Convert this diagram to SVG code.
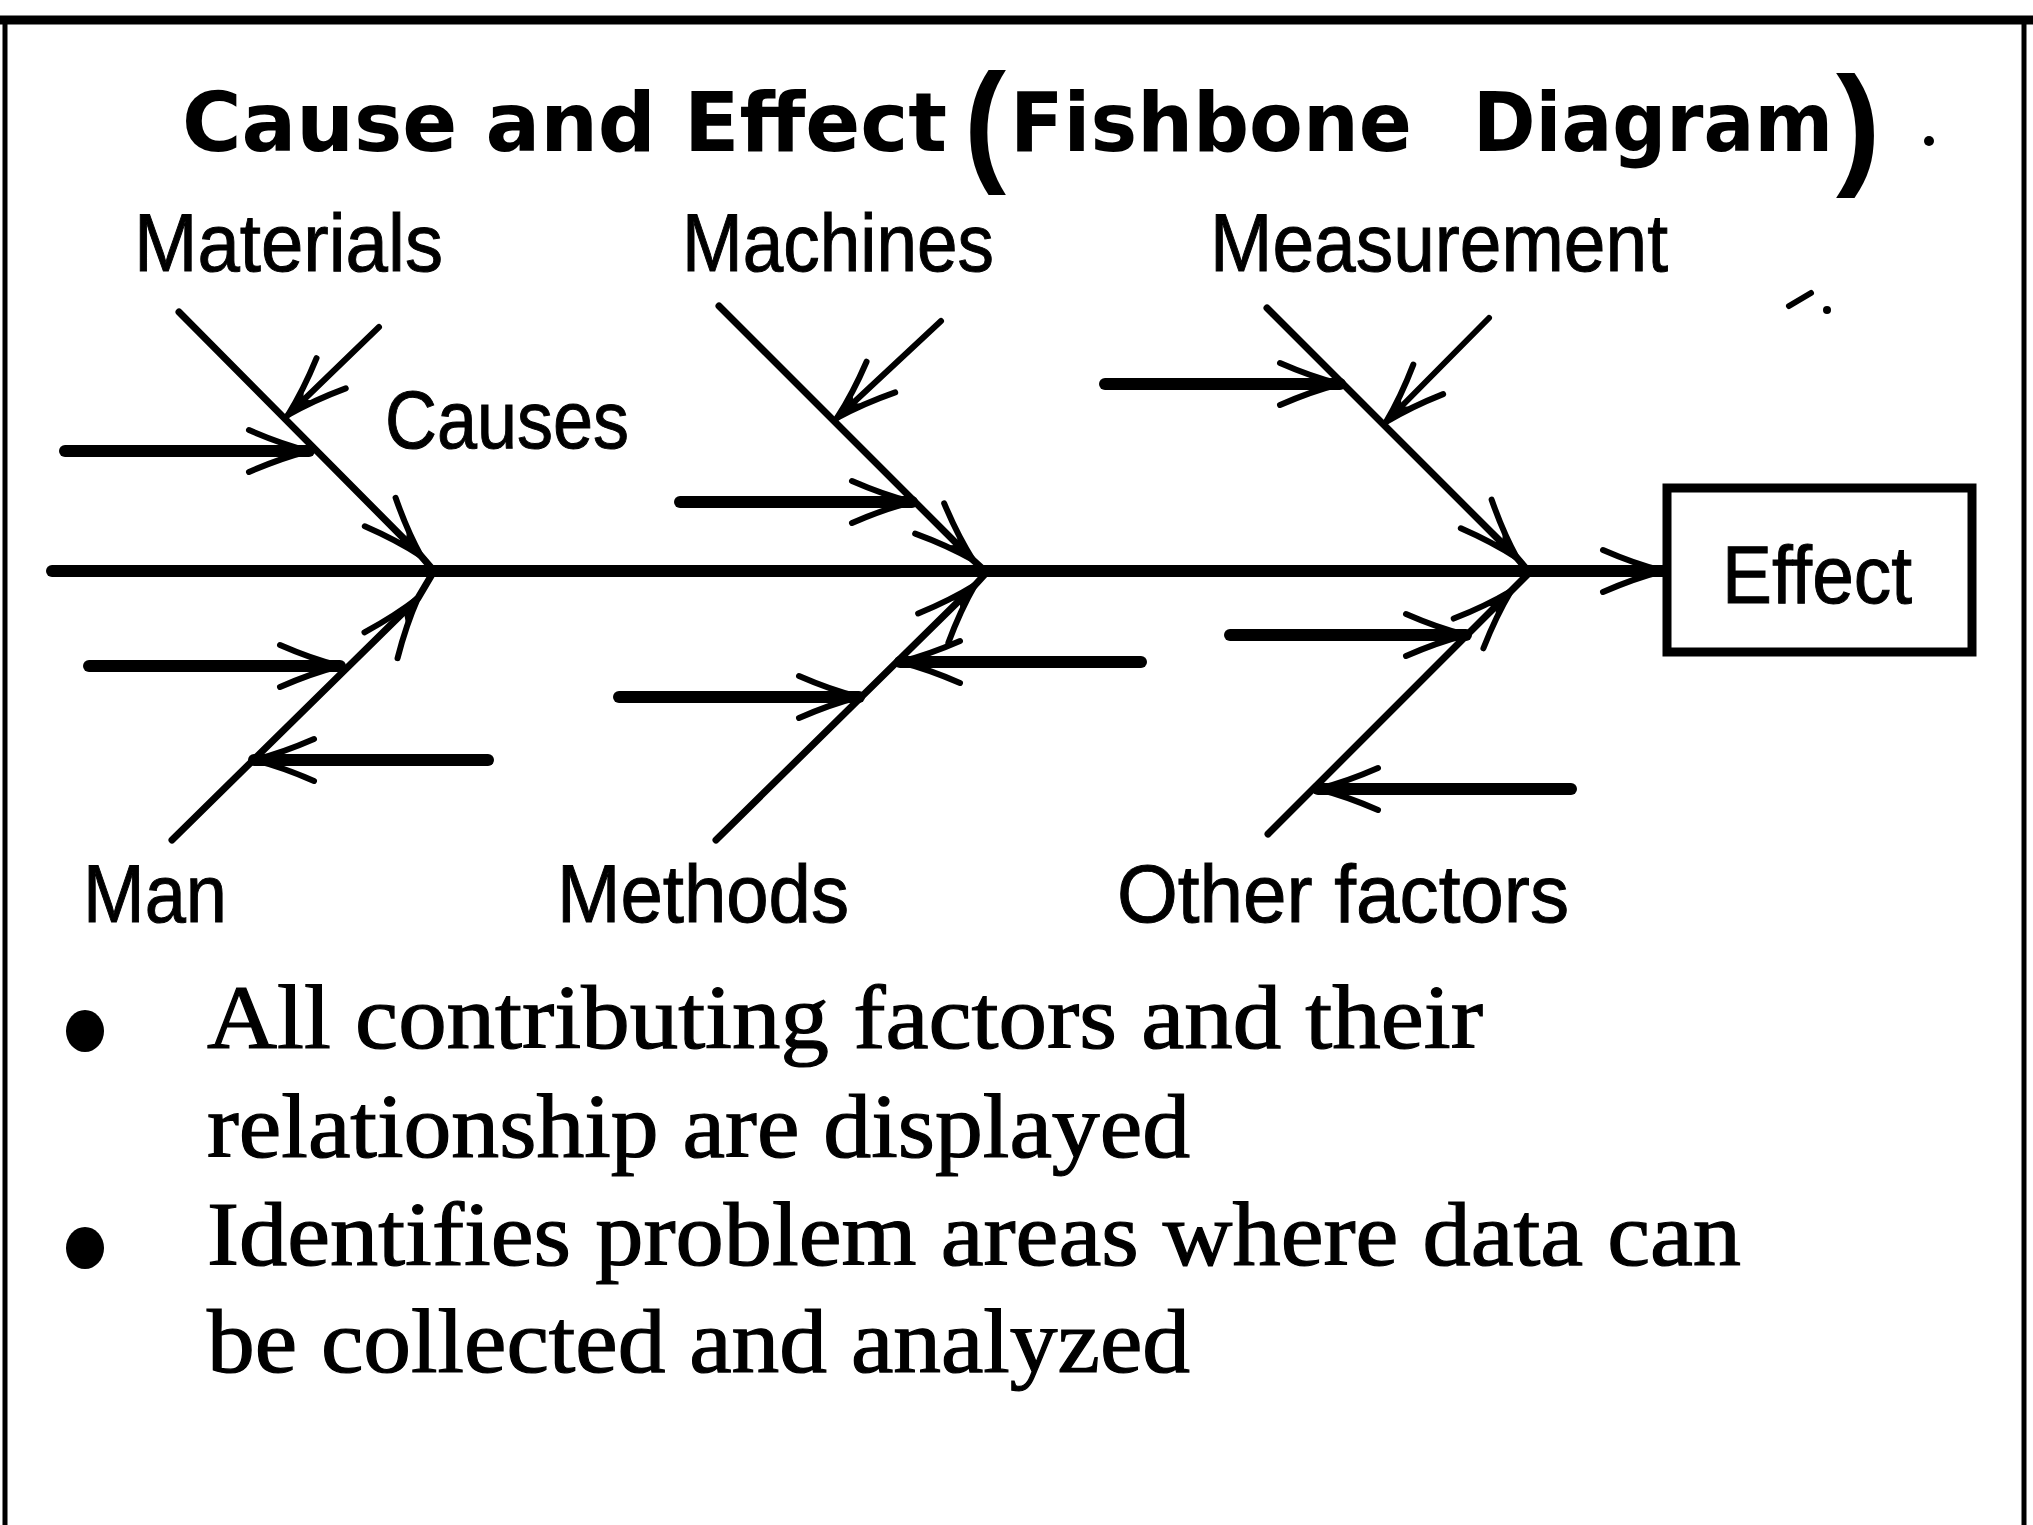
<svg xmlns="http://www.w3.org/2000/svg" width="2033" height="1525" viewBox="0 0 2033 1525">
  <style>
    .frame { stroke: #000; fill: none; }
    .spine { stroke: #000; stroke-width: 12; fill: none; stroke-linecap: round; }
    .bone { stroke: #000; stroke-width: 7; fill: none; stroke-linecap: round; }
    .cause { stroke: #000; stroke-width: 12; fill: none; stroke-linecap: round; }
    .twig { stroke: #000; stroke-width: 6; fill: none; stroke-linecap: round; }
    .title { font-family: "DejaVu Sans", "Liberation Sans", sans-serif; font-weight: bold; font-size: 82px; fill: #000; }
    .paren { font-family: "Liberation Sans", Arial, sans-serif; font-weight: bold; font-size: 134px; fill: #000; }
    .label { font-family: "Liberation Sans", Arial, sans-serif; font-size: 82px; fill: #000; stroke: #000; stroke-width: 1; }
    .note { font-family: "Liberation Serif", "Times New Roman", serif; font-size: 90px; fill: #000; stroke: #000; stroke-width: 1.2; }
  </style>
  <defs>
    <marker id="barb" markerUnits="userSpaceOnUse" viewBox="-66 -26 70 52" refX="0" refY="0" markerWidth="70" markerHeight="52" orient="auto" overflow="visible">
      <path d="M-60,-21 Q-28,-7 0,0 Q-28,7 -60,21" fill="none" stroke="#000" stroke-width="6" stroke-linecap="round"/>
      <path d="M3,0 L-30,-9 L-22,0 L-30,9 Z" fill="#000"/>
    </marker>
  </defs>

  <rect width="2033" height="1525" fill="#fff"/>

  <!-- outer frame: top rule and the two side rules -->
  <g id="frame">
    <line class="frame" x1="0" y1="20" x2="2033" y2="20" stroke-width="9"/>
    <line class="frame" x1="5" y1="16" x2="5" y2="1525" stroke-width="5"/>
    <line class="frame" x1="2024" y1="16" x2="2024" y2="1525" stroke-width="5"/>
  </g>

  <!-- heading -->
  <g id="title">
    <text class="title" x="182" y="151" textLength="765" lengthAdjust="spacingAndGlyphs">Cause and Effect</text>
    <text class="paren" x="964" y="167" textLength="42" lengthAdjust="spacingAndGlyphs">(</text>
    <text class="title" x="1010" y="151" textLength="402" lengthAdjust="spacingAndGlyphs">Fishbone</text>
    <text class="title" transform="translate(1473,151) scale(0.92,1)">Diagram</text>
    <text class="paren" x="1836" y="170">)</text>
    <circle cx="1929" cy="141" r="5" fill="#000"/>
    <path d="M1789,306 L1811,293" stroke="#000" stroke-width="6" stroke-linecap="round"/>
    <circle cx="1827" cy="310" r="4" fill="#000"/>
  </g>

  <!-- spine, category bones and cause arrows -->
  <g id="connectors">
    <line class="spine" x1="52" y1="571" x2="1663" y2="571" marker-end="url(#barb)"/>

    <!-- upper bones -->
    <polyline class="bone" points="179,312 421,556 434,571" marker-mid="url(#barb)"/>
    <polyline class="bone" points="719,306 973,560 985,571" marker-mid="url(#barb)"/>
    <polyline class="bone" points="1267,308 1517,558 1529,572" marker-mid="url(#barb)"/>

    <!-- lower bones -->
    <polyline class="bone" points="172,840 418,598 434,571" marker-mid="url(#barb)"/>
    <polyline class="bone" points="716,840 975,585 987,572" marker-mid="url(#barb)"/>
    <polyline class="bone" points="1268,834 1511,591 1529,573" marker-mid="url(#barb)"/>

    <!-- Materials causes -->
    <line class="twig" x1="379" y1="327" x2="288" y2="415" marker-end="url(#barb)"/>
    <line class="cause" x1="65" y1="451" x2="309" y2="451" marker-end="url(#barb)"/>
    <!-- Machines causes -->
    <line class="twig" x1="941" y1="321" x2="837" y2="418" marker-end="url(#barb)"/>
    <line class="cause" x1="680" y1="502" x2="912" y2="502" marker-end="url(#barb)"/>
    <!-- Measurement causes -->
    <line class="twig" x1="1489" y1="318" x2="1386" y2="422" marker-end="url(#barb)"/>
    <line class="cause" x1="1105" y1="384" x2="1340" y2="384" marker-end="url(#barb)"/>
    <!-- Man causes -->
    <line class="cause" x1="89" y1="666" x2="340" y2="666" marker-end="url(#barb)"/>
    <line class="cause" x1="488" y1="760" x2="254" y2="760" marker-end="url(#barb)"/>
    <!-- Methods causes -->
    <line class="cause" x1="619" y1="697" x2="859" y2="697" marker-end="url(#barb)"/>
    <line class="cause" x1="1141" y1="662" x2="900" y2="662" marker-end="url(#barb)"/>
    <!-- Other factors causes -->
    <line class="cause" x1="1230" y1="635" x2="1466" y2="635" marker-end="url(#barb)"/>
    <line class="cause" x1="1571" y1="789" x2="1318" y2="789" marker-end="url(#barb)"/>
  </g>

  <!-- category labels -->
  <g id="node-materials">
    <text class="label" x="134" y="271" textLength="309" lengthAdjust="spacingAndGlyphs">Materials</text>
  </g>
  <g id="node-machines">
    <text class="label" x="682" y="271" textLength="312" lengthAdjust="spacingAndGlyphs">Machines</text>
  </g>
  <g id="node-measurement">
    <text class="label" x="1210" y="271" textLength="458" lengthAdjust="spacingAndGlyphs">Measurement</text>
  </g>
  <g id="node-causes">
    <text class="label" x="385" y="448" textLength="244" lengthAdjust="spacingAndGlyphs">Causes</text>
  </g>
  <g id="node-man">
    <text class="label" x="83" y="922" textLength="144" lengthAdjust="spacingAndGlyphs">Man</text>
  </g>
  <g id="node-methods">
    <text class="label" x="557" y="922" textLength="292" lengthAdjust="spacingAndGlyphs">Methods</text>
  </g>
  <g id="node-other">
    <text class="label" x="1117" y="922" textLength="452" lengthAdjust="spacingAndGlyphs">Other factors</text>
  </g>

  <!-- effect box at the head of the spine -->
  <g id="node-effect">
    <rect x="1667" y="488" width="305" height="164" fill="#fff" stroke="#000" stroke-width="9"/>
    <text class="label" x="1722" y="603" font-size="88" textLength="190" lengthAdjust="spacingAndGlyphs">Effect</text>
  </g>

  <!-- bullet notes -->
  <g id="notes">
    <ellipse cx="85" cy="1031" rx="19" ry="21" fill="#000"/>
    <ellipse cx="85" cy="1248" rx="19" ry="21" fill="#000"/>
    <text class="note" x="207" y="1048" textLength="1276" lengthAdjust="spacingAndGlyphs">All contributing factors and their</text>
    <text class="note" x="207" y="1157" textLength="983" lengthAdjust="spacingAndGlyphs">relationship are displayed</text>
    <text class="note" x="207" y="1265" textLength="1534" lengthAdjust="spacingAndGlyphs">Identifies problem areas where data can</text>
    <text class="note" x="207" y="1372" textLength="983" lengthAdjust="spacingAndGlyphs">be collected and analyzed</text>
  </g>
</svg>
